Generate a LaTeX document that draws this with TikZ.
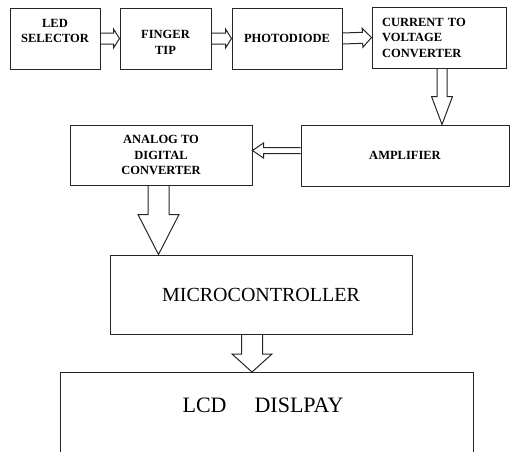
\documentclass[tikz,border=0pt]{standalone}
\usepackage{fontspec}
\setmainfont{Liberation Serif}
\usetikzlibrary{calc,positioning}

\tikzset{
    box/.style={draw=black!85, line width=1pt, rectangle, inner sep=0pt, align=center},
    small/.style={font=\fontsize{12.5}{15.5}\selectfont\bfseries},
    arrowline/.style={draw=black!85, line width=1pt, line join=miter},
}

% 空心箭头: 起点, 终点, 杆半宽, 头半宽, 头长
\newcommand{\blockarrow}[5]{%
    \coordinate (bh) at ($(#2)!#5!(#1)$);
    \draw[arrowline] ($(#1)!#3!90:(#2)$) -- ($(bh)!#3!90:(#2)$) --
        ($(bh)!#4!90:(#2)$) -- (#2) -- ($(bh)!#4!-90:(#2)$) --
        ($(bh)!#3!-90:(#2)$) -- ($(#1)!#3!-90:(#2)$);
}

\begin{document}
\begin{tikzpicture}[x=1pt, y=-1pt]
    \useasboundingbox (0,0) rectangle (510,451);

    % 第一行
    \node[box, small, minimum width=90, minimum height=61] (led) at (55,38.5) {LED\\SELECTOR\\~};
    \node[box, small, minimum width=91, minimum height=61] (finger) at (165.5,38.5) {~\\FINGER\\TIP};
    \node[box, small, minimum width=110, minimum height=61] (photo) at (287,38.5) {PHOTODIODE};
    \node[box, small, align=left, text width=114, inner xsep=10pt,
        minimum width=134, minimum height=61] (ctv) at (439,37.5) {CURRENT TO\\VOLTAGE\\CONVERTER};

    % 第二行
    \node[box, small, minimum width=208, minimum height=61] (amp) at (405,155.5) {AMPLIFIER};
    \node[box, small, minimum width=182, minimum height=60] (adc) at (161,155) {ANALOG TO\\DIGITAL\\CONVERTER};

    % 下面
    \node[box, font=\fontsize{20}{24}\selectfont, minimum width=302, minimum height=79] (mcu) at (261,294.5) {MICROCONTROLLER};
    \node[box, anchor=north, minimum width=413, minimum height=100] (lcd) at (266.5,372) {};
    \node[font=\fontsize{22}{26}\selectfont] (lcdtext) at (263,405) {LCD\hspace{28pt}DISLPAY};

    % 箭头
    \blockarrow{led.east}{finger.west}{5.5pt}{9.5pt}{6pt}
    \blockarrow{finger.east}{photo.west}{5.5pt}{9.5pt}{6pt}
    \blockarrow{photo.east}{ctv.west}{5.5pt}{9.5pt}{9pt}

    \coordinate (s1) at ($(ctv.south)+(3,0)$);
    \coordinate (e1) at (amp.north -| s1);
    \blockarrow{s1}{e1}{5pt}{10.5pt}{28pt}

    \coordinate (s2) at ($(amp.west)+(0,-5)$);
    \coordinate (e2) at (adc.east |- s2);
    \blockarrow{s2}{e2}{3pt}{7.5pt}{11pt}

    \coordinate (s3) at ($(adc.south)+(-2.5,0)$);
    \coordinate (e3) at (mcu.north -| s3);
    \blockarrow{s3}{e3}{10.5pt}{20.5pt}{40pt}

    \coordinate (s4) at ($(mcu.south)+(-9,0)$);
    \coordinate (e4) at (lcd.north -| s4);
    \blockarrow{s4}{e4}{10.5pt}{20pt}{18pt}
\end{tikzpicture}
\end{document}
